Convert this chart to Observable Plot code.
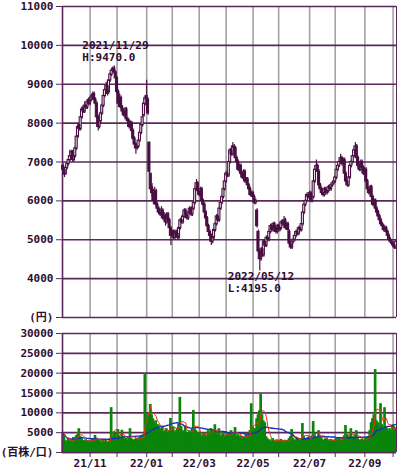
<!DOCTYPE html>
<html><head><meta charset="utf-8">
<script src="https://cdn.jsdelivr.net/npm/d3@7"></script>
<script src="https://cdn.jsdelivr.net/npm/@observablehq/plot@0.6"></script>
<style>
body{margin:0;background:#fff;}
#chart{width:400px;height:476px;overflow:hidden;}
#chart svg{display:block;}
</style></head><body><div id="chart"></div>
<script>
// Daily prices (yen), trading-day index 0..247 (Oct 2021 - Oct 2022)
const open = [
6900,6800,6700,6850,6950,7050,7150,7250,7050,7150,
7350,7650,7950,7850,8150,8400,8300,8450,8400,8600,
8500,8600,8650,8750,8600,8500,8150,7900,8050,8250,
8450,8700,8850,8950,8800,9100,9250,9350,9400,9300,
9150,8800,8500,8650,8400,8300,8200,8350,8100,8050,
7900,8000,7800,7600,7450,7350,7400,7550,7750,7950,
8200,8500,8700,8600,7500,6700,6350,6200,6000,6250,
5900,5800,5700,5650,5750,5550,5600,5450,5650,5500,
5300,5100,5200,5050,5200,5150,5050,5300,5500,5450,
5600,5750,5650,5550,5700,5800,5650,5800,5950,6300,
6450,6250,6150,6300,6000,5900,5700,5550,5350,5200,
5100,4950,5050,5250,5400,5600,5500,5800,5950,6100,
6300,6500,6700,6650,7000,7300,7200,7400,7350,7100,
7000,6800,6900,6700,6600,6750,6500,6550,6400,6300,
6150,6200,6100,5950,5750,5200,4700,4500,4750,4600,
4950,4850,5050,5000,5200,5350,5250,5400,5300,5200,
5350,5250,5300,5450,5400,5500,5300,5400,5200,4900,
4800,4950,5000,5100,5200,5150,5300,5250,5400,5700,
5900,6000,6150,6100,6200,6000,6100,6500,6800,6900,
6750,6400,6300,6200,6150,6300,6200,6250,6350,6300,
6400,6450,6500,6600,6800,6900,7000,7100,6950,7050,
6700,6500,6400,6600,6900,7000,7150,7300,7400,7100,
6900,6800,7000,6850,6700,6800,6500,6300,6200,6350,
6100,5900,6000,5800,5700,5600,5500,5400,5350,5250,
5300,5200,5100,5000,4950,4900,4850,4800];
const high = [
6950,6850,6900,7000,7100,7300,7300,7300,7200,7400,
7700,7950,8000,8200,8400,8450,8550,8500,8600,8650,
8700,8750,8800,8800,8650,8550,8200,8100,8300,8500,
8750,8900,9050,9000,9150,9300,9400,9450,9470,9350,
9200,8850,8750,8700,8450,8350,8400,8400,8150,8100,
8050,8050,7850,7650,7500,7450,7600,7800,8000,8200,
8600,8700,9100,8650,7500,6700,6450,6300,6350,6300,
5950,5850,5800,5850,5800,5700,5650,5700,5700,5550,
5350,5250,5250,5250,5250,5200,5350,5550,5550,5650,
5800,5800,5700,5750,5850,5850,5850,6000,6350,6550,
6500,6300,6350,6350,6050,5950,5750,5600,5400,5250,
5150,5100,5300,5450,5650,5650,5850,6000,6150,6350,
6550,6750,6800,7050,7350,7350,7500,7450,7400,7150,
7050,6950,6950,6750,6800,6800,6600,6600,6450,6350,
6250,6250,6150,6050,5800,5250,4750,4800,4800,5000,
5000,5100,5100,5250,5400,5400,5450,5450,5350,5400,
5400,5350,5500,5500,5600,5550,5450,5450,5250,4950,
5000,5050,5150,5250,5250,5350,5350,5450,5750,5950,
6050,6200,6200,6250,6250,6150,6550,6900,7050,6950,
6800,6450,6350,6250,6350,6350,6300,6400,6400,6450,
6500,6550,6650,6850,6950,7050,7200,7150,7100,7100,
6750,6550,6650,6950,7050,7200,7350,7500,7450,7150,
6950,7050,7050,6900,6850,6850,6550,6350,6400,6400,
6150,6050,6050,5850,5750,5650,5550,5450,5400,5350,
5350,5250,5150,5050,5000,4950,4900,5000];
const low = [
6650,6600,6650,6800,6900,7000,7100,7000,7000,7100,
7300,7600,7800,7800,8100,8250,8250,8350,8350,8450,
8450,8550,8600,8550,8450,8100,7800,7850,8000,8200,
8400,8650,8800,8700,8750,9050,9200,9300,9250,9100,
8750,8400,8450,8350,8250,8150,8150,8050,8000,7850,
7850,7750,7550,7400,7200,7300,7350,7500,7700,7900,
8150,8450,8550,8200,6700,6250,6100,5900,5950,5850,
5700,5650,5600,5600,5500,5500,5350,5400,5450,5250,
4850,5050,5000,5000,5100,5000,5000,5250,5400,5400,
5550,5600,5500,5500,5650,5600,5600,5750,5900,6250,
6200,6100,6100,5950,5850,5650,5500,5300,5150,5050,
4850,4900,5000,5200,5350,5450,5450,5750,5900,6050,
6250,6450,6600,6600,6950,7150,7150,7300,7050,6950,
6750,6750,6650,6550,6550,6450,6450,6350,6250,6100,
6100,6050,5900,5900,5300,4650,4195,4450,4550,4550,
4800,4800,4950,4950,5150,5200,5200,5250,5150,5150,
5200,5200,5250,5350,5350,5250,5250,5200,4850,4750,
4750,4900,4950,5050,5100,5100,5200,5200,5350,5650,
5850,5950,6050,6050,5950,5950,6050,6450,6750,6700,
6350,6250,6150,6100,6100,6150,6150,6200,6250,6250,
6350,6400,6450,6550,6750,6850,6950,6900,6900,6650,
6450,6350,6350,6550,6850,6950,7100,7250,7050,6850,
6750,6750,6800,6650,6650,6450,6250,6150,6150,6050,
5850,5850,5750,5650,5550,5450,5350,5300,5200,5200,
5150,5050,4950,4900,4850,4800,4750,4750];
const close = [
6800,6700,6850,6950,7050,7150,7250,7050,7150,7350,
7650,7900,7850,8150,8350,8300,8450,8400,8550,8500,
8600,8650,8700,8600,8500,8150,7900,8050,8250,8450,
8700,8850,8950,8750,9100,9250,9350,9400,9300,9150,
8800,8500,8650,8400,8300,8200,8350,8100,8050,7900,
8000,7800,7600,7450,7350,7400,7550,7750,7950,8150,
8500,8650,8600,8250,6750,6300,6200,6000,6250,5900,
5800,5700,5650,5750,5550,5600,5450,5650,5500,5300,
5100,5200,5050,5200,5150,5050,5300,5500,5450,5600,
5750,5650,5550,5700,5800,5650,5800,5950,6300,6450,
6250,6150,6300,6000,5900,5700,5550,5350,5200,5100,
4950,5050,5250,5400,5600,5500,5800,5950,6100,6300,
6500,6700,6650,7000,7300,7200,7400,7350,7100,7000,
6800,6900,6700,6600,6750,6500,6550,6400,6300,6150,
6200,6100,5950,6000,5350,4700,4500,4750,4600,4950,
4850,5050,5000,5200,5350,5250,5400,5300,5200,5350,
5250,5300,5450,5400,5500,5300,5400,5250,4900,4800,
4950,5000,5100,5200,5150,5300,5250,5400,5700,5900,
6000,6150,6100,6200,6000,6100,6500,6800,6900,6750,
6400,6300,6200,6150,6300,6200,6250,6350,6300,6400,
6450,6500,6600,6800,6900,7000,7100,6950,7050,6700,
6500,6400,6600,6900,7000,7150,7300,7400,7100,6900,
6800,7000,6850,6700,6800,6500,6300,6200,6350,6100,
5900,6000,5800,5700,5600,5500,5400,5350,5250,5300,
5200,5100,5000,4950,4900,4850,4800,4950];
// Daily volume (百株)
const volume = [
4800,4200,3000,2600,3500,2800,3200,2500,3800,3400,
4200,4500,6000,4000,3500,3000,2800,3200,2600,3000,
2900,2800,3300,3000,4300,3600,3100,2700,3000,2500,
3200,2800,3100,2400,2700,3500,11300,4000,5200,4800,
3600,5800,4200,3500,5600,4000,3300,3600,3100,3800,
6000,3500,3200,2900,3400,3600,3300,3800,4100,3700,
4500,19900,8000,9500,10000,12100,9500,8500,7500,8000,
6500,7000,6000,5500,6500,5000,5500,6000,5000,5500,
8600,5500,6500,5000,5500,6000,7000,13900,6500,5500,
5000,6500,5000,4500,5500,5000,6000,10600,6000,5500,
5000,4500,5000,4000,4500,5000,4500,4000,5500,5000,
6000,5500,5000,7000,4500,5000,6000,4000,4500,5000,
4000,4500,4000,5000,4500,5500,5000,4500,6300,4000,
4500,3800,4200,3500,4000,3600,4500,4000,5000,5500,
12300,6500,5000,6000,8500,9500,10500,14800,9500,8000,
7500,4000,3500,3000,3200,2800,3500,3000,2600,3200,
3000,2800,3300,3000,2500,3100,2800,3000,3500,4000,
5800,3500,3000,3200,3800,3000,3500,3300,7300,4000,
3500,3200,3800,4000,3500,4200,7800,4500,3800,3500,
5500,3500,3800,3200,3000,3400,3600,3100,2800,3300,
3000,2900,3200,3500,3300,3800,3400,3000,3600,4200,
6800,4500,3800,4200,6000,4000,3800,4500,5500,3500,
3200,3000,3400,3200,3000,3600,3800,4000,5500,7500,
8500,9500,20900,8000,7500,6500,12300,7000,6000,11300,
6500,6000,5500,6000,5500,7000,6500,6000];

const priceTicks = [3000,4000,5000,6000,7000,8000,9000,10000,11000];
const volumeTicks = [0,5000,10000,15000,20000,25000,30000];
const monthStarts = [20,40,62,81,101,121,141,160,183,202,224,245];
const monthLabels = ["21/11","","22/01","","22/03","","22/05","","22/07","","22/09",""];
const highNote = {i:38, value:9470, date:"2021/11/29", text:"H:9470.0"};
const lowNote  = {i:146, value:4195, date:"2022/05/12", text:"L:4195.0"};

const PURPLE = "#4a0f42", GRID = "#5a2858", VGRID = "#a3a3a3", TEXT = "#2e0c30";
const GREEN = "#0a850a", RED = "#f03010", BLUE = "#1a2cc0";
const N = close.length;
const candles = close.map((c,i)=>({i, open:open[i], high:high[i], low:low[i], close:c}));
const vols = volume.map((v,i)=>({i, v}));
const font = {fontFamily:'"DejaVu Sans Mono","Noto Sans CJK JP",monospace', fontSize:"11px", fontWeight:"bold", color:TEXT, background:"transparent"};
const xDom = [-0.5, N-0.5];

const price = Plot.plot({
  width:400, height:325, marginTop:6, marginBottom:8, marginLeft:62, marginRight:4,
  style: font,
  x:{domain:xDom, axis:null, label:null},
  y:{domain:[3000,11000], label:null},
  marks:[
    Plot.ruleX(monthStarts, {stroke:VGRID, strokeWidth:1.6}),
    Plot.ruleY(priceTicks, {stroke:GRID, strokeWidth:1.6}),
    Plot.ruleX([xDom[0]], {stroke:GRID, strokeWidth:1.6}),
    Plot.ruleX([xDom[1]], {stroke:GRID, strokeWidth:1}),
    Plot.axisY({ticks:priceTicks, tickSize:6, tickPadding:3, stroke:GRID,
      tickFormat:d => d===3000 ? "(円)" : String(d)}),
    Plot.ruleX(candles, {x:"i", y1:"low", y2:"high", stroke:PURPLE, strokeWidth:1.2}),
    Plot.rect(candles.filter(d=>d.close>=d.open), {x1:d=>d.i-0.75, x2:d=>d.i+0.75, y1:"open", y2:"close", fill:"#f4eef4", stroke:PURPLE, strokeWidth:1.1}),
    Plot.rect(candles.filter(d=>d.close<d.open), {x1:d=>d.i-0.75, x2:d=>d.i+0.75, y1:"open", y2:"close", fill:PURPLE, stroke:PURPLE, strokeWidth:1.1}),
    Plot.text([highNote], {x:"i", y:"value", text:"date", dx:-32, dy:-21, textAnchor:"start", fill:TEXT}),
    Plot.text([highNote], {x:"i", y:"value", text:"text", dx:-32, dy:-9, textAnchor:"start", fill:TEXT}),
    Plot.text([lowNote], {x:"i", y:"value", text:"date", dx:-32, dy:5, textAnchor:"start", fill:TEXT}),
    Plot.text([lowNote], {x:"i", y:"value", text:"text", dx:-32, dy:17, textAnchor:"start", fill:TEXT})
  ]
});

const tickLabel = new Map(monthStarts.map((m,k)=>[m, monthLabels[k]]));
const vol = Plot.plot({
  width:400, height:151, marginTop:8, marginBottom:24, marginLeft:62, marginRight:4,
  style: font,
  x:{domain:xDom, label:null},
  y:{domain:[0,30000], label:null},
  marks:[
    Plot.ruleX(monthStarts, {stroke:VGRID, strokeWidth:1.6}),
    Plot.ruleY(volumeTicks, {stroke:GRID, strokeWidth:1.6}),
    Plot.rect(vols, {x1:d=>d.i-1, x2:d=>d.i+1, y1:d=>0, y2:"v", fill:GREEN}),
    Plot.lineY(vols, Plot.windowY({k:25, anchor:"end"}, {x:"i", y:"v", stroke:BLUE, strokeWidth:1.4})),
    Plot.lineY(vols, Plot.windowY({k:5, anchor:"end"}, {x:"i", y:"v", stroke:RED, strokeWidth:1})),
    Plot.ruleX([xDom[0]], {stroke:GRID, strokeWidth:1.6}),
    Plot.ruleX([xDom[1]], {stroke:GRID, strokeWidth:1}),
    Plot.ruleY([0], {stroke:GRID, strokeWidth:1.6}),
    Plot.axisY({ticks:volumeTicks, tickSize:6, tickPadding:3, stroke:GRID,
      tickFormat:d => d===0 ? "(百株/口)" : String(d)}),
    Plot.axisX({ticks:monthStarts, tickSize:5, tickPadding:2, stroke:GRID,
      tickFormat:d => tickLabel.get(d) ?? ""})
  ]
});

const el = document.getElementById("chart");
el.appendChild(price);
el.appendChild(vol);
</script>
</body></html>
